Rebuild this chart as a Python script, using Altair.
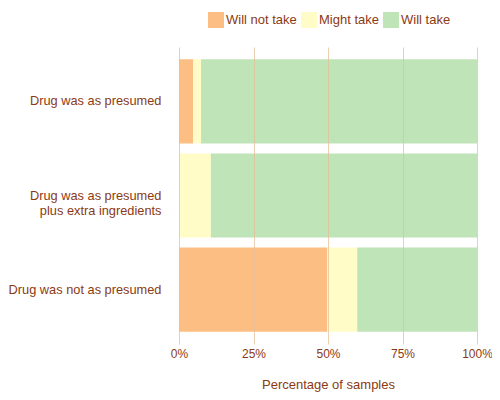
import altair as alt
import pandas as pd

groups = ["Drug was as presumed", "Drug was as presumed\nplus extra ingredients", "Drug was not as presumed"]
responses = ["Will not take", "Might take", "Will take"]
will_not = [4.7, 0.0, 49.8]
might = [2.7, 10.7, 10.0]
will = [92.6, 89.3, 40.2]
colors = ["#fcbe82", "#fffcc8", "#bfe4b8"]

rows = []
for i, g in enumerate(groups):
    for j, (r, v) in enumerate(zip(responses, [will_not[i], might[i], will[i]])):
        rows.append({"group": g, "response": r, "value": v, "ord": j})
df = pd.DataFrame(rows)

text_color = "#8b3a14"
font = "Liberation Sans"

chart = alt.Chart(df).mark_bar().encode(
    y=alt.Y("group:N", sort=groups, title=None,
            scale=alt.Scale(paddingInner=0.106, paddingOuter=0.13),
            axis=alt.Axis(labelExpr="split(datum.label, '\\n')", labelColor=text_color,
                          labelFontSize=12.8, labelFont=font, labelLineHeight=15,
                          domain=False, ticks=False, labelPadding=18, grid=False)),
    x=alt.X("value:Q", stack="zero", title="Percentage of samples",
            scale=alt.Scale(domain=[0, 100]),
            axis=alt.Axis(values=[0, 25, 50, 75, 100], labelExpr="datum.value + '%'",
                          labelColor=text_color, titleColor=text_color, labelFontSize=12,
                          titleFontSize=13, titleFontWeight="normal", labelFont=font,
                          titleFont=font, domain=False, ticks=False, labelFlush=False,
                          gridColor="#e6bf98", gridOpacity=0.75,
                          labelPadding=4, titlePadding=19, zindex=1)),
    color=alt.Color("response:N", sort=responses,
                    scale=alt.Scale(domain=responses, range=colors),
                    legend=alt.Legend(title=None, orient="none", direction="horizontal",
                                      legendX=29, legendY=-35, symbolType="square",
                                      symbolSize=256, symbolStrokeWidth=0, labelColor=text_color,
                                      labelFontSize=13, labelFont=font, padding=0,
                                      symbolOpacity=1, columnPadding=4, labelOffset=2)),
    order=alt.Order("ord:Q"),
).properties(
    width=298, height=297,
    autosize=alt.AutoSizeParams(type="none"),
    padding={"left": 171, "top": 39, "right": 15, "bottom": 48},
).configure_view(stroke=None)

chart.save("out.html", embed_options={"renderer": "svg", "actions": False})
